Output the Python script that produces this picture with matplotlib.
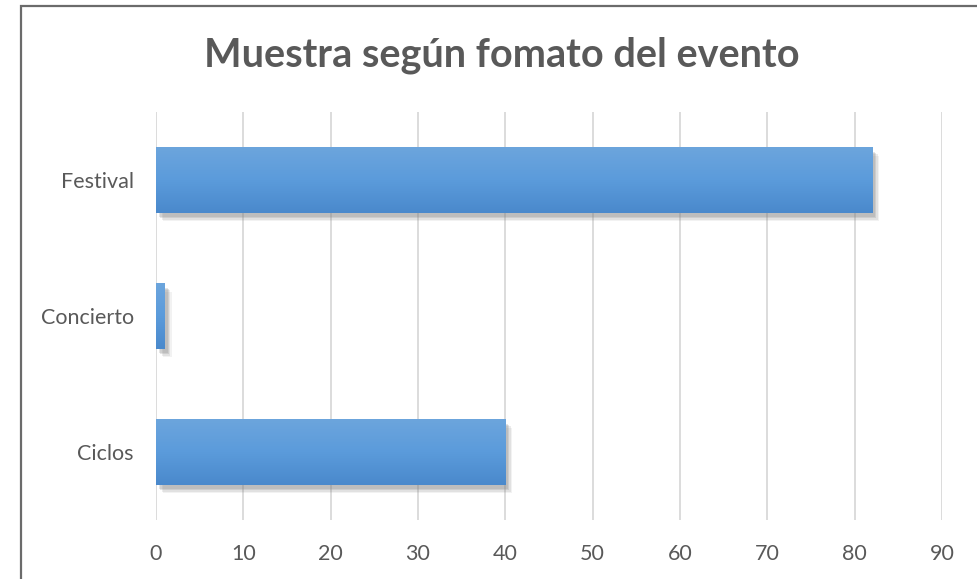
import numpy as np
import matplotlib
matplotlib.use("Agg")
import matplotlib.pyplot as plt
import matplotlib.patheffects as pe
from matplotlib.patches import Rectangle

plt.rcParams['font.family'] = ['Lato', 'DejaVu Sans']

categories = ['Ciclos', 'Concierto', 'Festival']
values = [40, 1, 82]
x_ticks = [0, 10, 20, 30, 40, 50, 60, 70, 80, 90]

text_color = '#595959'
grid_color = '#d9d9d9'

fig = plt.figure(figsize=(9.78, 5.79), dpi=100)
ax = fig.add_axes([0.1595, 0.1019, 0.8037, 0.7047])

bar_h = 0.48
ypos = np.arange(len(categories))

# soft shadow built from a few offset layers
shadow = [pe.SimplePatchShadow(offset=(o, -o - 1), shadow_rgbFace='#808080', alpha=a)
          for o, a in [(5, 0.10), (4, 0.15), (3, 0.2), (2, 0.2)]]
bars = ax.barh(ypos, values, height=bar_h, color='#5b9bd5', zorder=3,
               path_effects=shadow + [pe.Normal()])

# vertical gradient on each bar
grad = np.linspace(0, 1, 100).reshape(-1, 1)
cmap = matplotlib.colors.LinearSegmentedColormap.from_list('g', ['#4a89cc', '#5b9bdb', '#6ca5dd'])
for b in bars:
    x0, y0 = b.get_x(), b.get_y()
    w, h = b.get_width(), b.get_height()
    ax.imshow(grad, cmap=cmap, origin='lower', aspect='auto',
              extent=[x0, x0 + w, y0, y0 + h], zorder=4)

ax.set_xlim(0, 90)
ax.set_ylim(-0.5, 2.5)
ax.set_xticks(x_ticks)
ax.set_yticks(ypos)
ax.set_yticklabels(categories)
ax.grid(axis='x', color=grid_color, linewidth=1.3, zorder=0)
ax.set_axisbelow(True)
for s in ax.spines.values():
    s.set_visible(False)
ax.tick_params(axis='both', length=0, labelsize=15.5, colors=text_color)
ax.tick_params(axis='x', pad=17)
ax.tick_params(axis='y', pad=16)

fig.text(0.513, 0.905, 'Muestra según fomato del evento', ha='center', va='center',
         fontsize=28.5, fontweight='bold', color=text_color)

# chart border (cut off on right and bottom)
fig.patches.append(Rectangle((21 / 978, -0.1), 1.2, 1.1 - 6 / 579,
                             transform=fig.transFigure, fill=False,
                             edgecolor='#6b6b6b', linewidth=1.6))

fig.savefig('out.png', dpi=100)
